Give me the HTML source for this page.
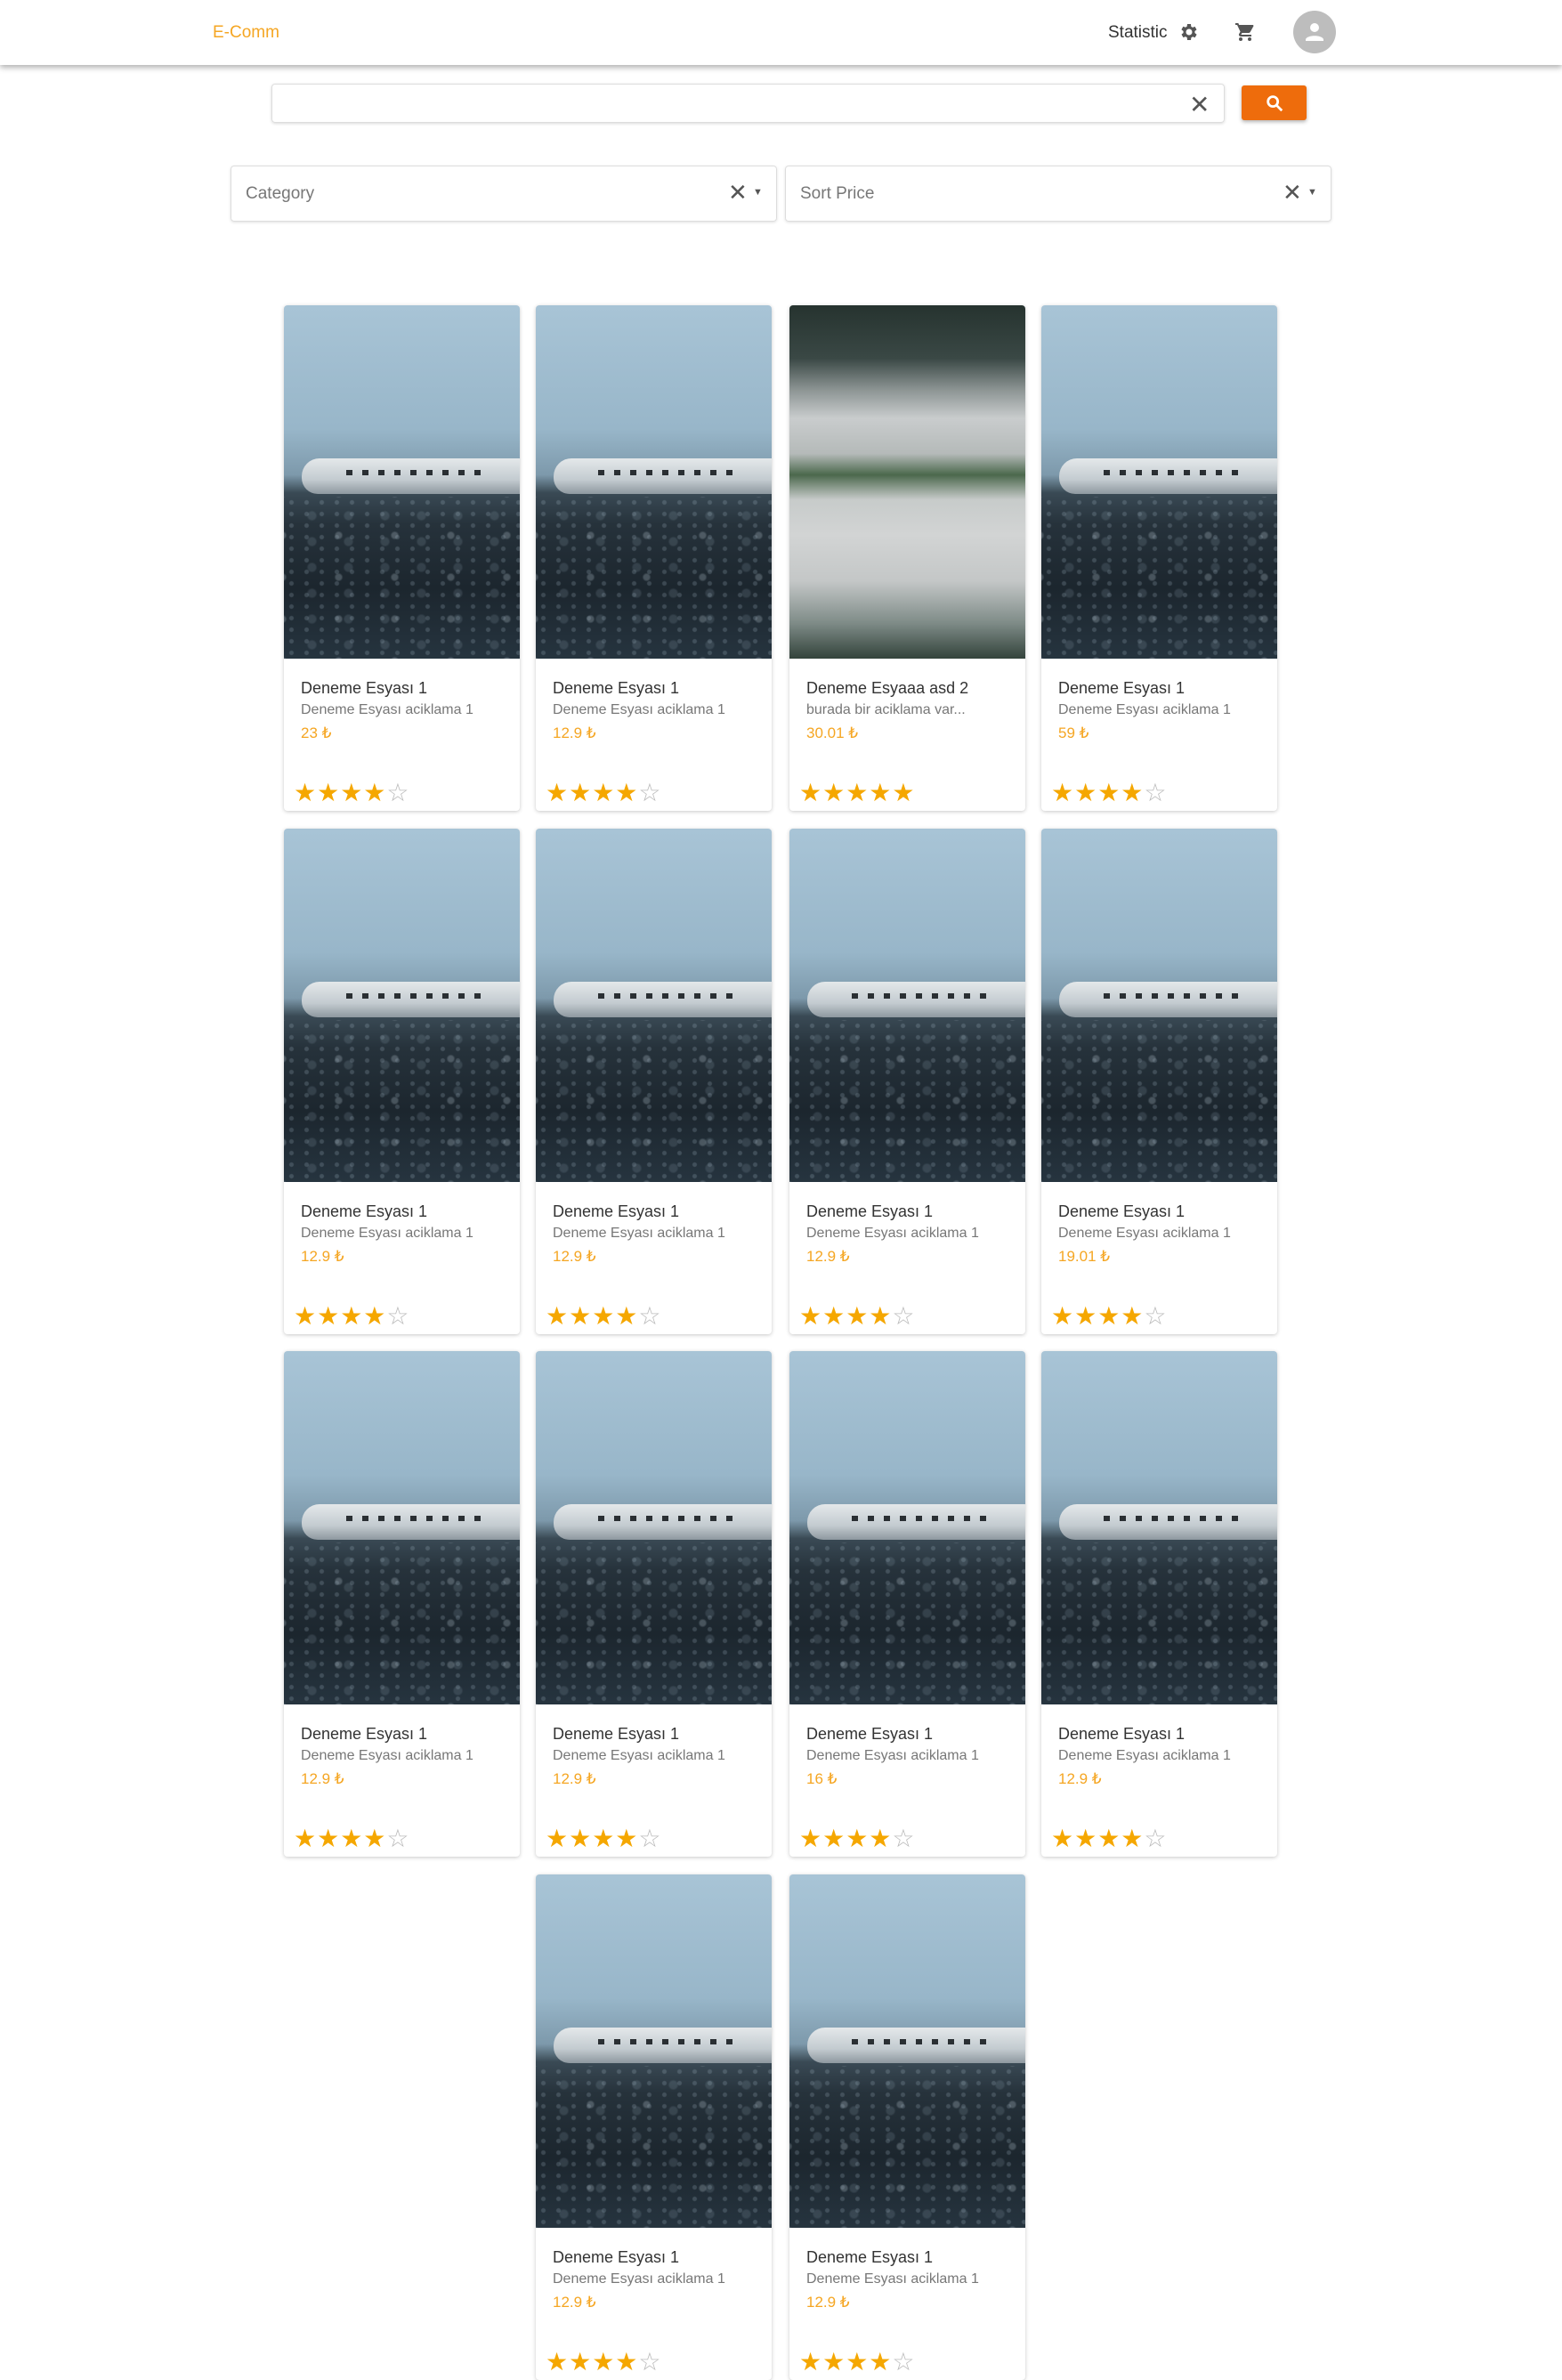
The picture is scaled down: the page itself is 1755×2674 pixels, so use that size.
<!DOCTYPE html>
<html><head><meta charset="utf-8">
<style>
*{box-sizing:border-box;margin:0;padding:0}
body{width:1755px;height:2673px;background:#fff;font-family:"Liberation Sans",sans-serif;position:relative;overflow:hidden}
.hdr{position:absolute;left:0;top:0;width:1755px;height:73px;background:#fff;box-shadow:0 3px 6px rgba(0,0,0,.3)}
.logo{position:absolute;left:239px;top:26px;font-size:19px;color:#f5a623}
.stat{position:absolute;left:1245px;top:26px;font-size:19px;color:#333}
.abs{position:absolute}
.search{position:absolute;left:305px;top:94px;width:1071px;height:44px;border:1px solid #ddd;border-radius:4px;box-shadow:0 1px 3px rgba(0,0,0,.15)}
.sbtn{position:absolute;left:1395px;top:96px;width:73px;height:39px;background:#ee6c0c;border-radius:3px;box-shadow:0 2px 4px rgba(0,0,0,.3)}
.sel{position:absolute;top:186px;width:614px;height:63px;border:1px solid #ddd;border-radius:4px;box-shadow:0 1px 3px rgba(0,0,0,.12)}
.sel span{position:absolute;left:16px;top:20px;font-size:19px;color:#777}
.card{position:absolute;width:265px;height:568px;background:#fff;border-radius:4px;box-shadow:0 1px 4px rgba(0,0,0,.22);overflow:hidden}
.img{position:absolute;left:0;top:0;width:265px;height:397px;overflow:hidden}
.plane .img{background:linear-gradient(180deg,#a8c4d6 0%,#98b6c9 35%,#7d99ab 48%,#3a4a55 53%,#26323b 62%,#1c262e 80%,#26343f 100%)}
.speck{position:absolute;left:0;top:215px;width:265px;height:182px;background-image:radial-gradient(circle,rgba(170,190,205,.22) 0 2px,transparent 3px),radial-gradient(circle,rgba(150,170,185,.18) 0 4px,transparent 6px),radial-gradient(circle,rgba(200,215,225,.25) 0 3px,transparent 5px);background-size:17px 13px,41px 29px,63px 47px;background-position:0 0,11px 7px,30px 20px}
.fog .img{background:linear-gradient(180deg,#26332f 0%,#3a4845 15%,#8d9594 24%,#c9cccd 32%,#b5bab9 42%,#4b684c 48%,#c7cbca 55%,#d2d4d4 65%,#c4c7c7 78%,#7e8b87 90%,#33433b 100%)}
.t{position:absolute;left:19px;top:420px;font-size:18px;color:#333}
.d{position:absolute;left:19px;top:446px;font-size:16px;color:#777}
.p{position:absolute;left:19px;top:471px;font-size:17px;color:#f5a623}
.stars{position:absolute;left:11px;top:531px;font-size:28px;letter-spacing:1px;color:#f5a700}
.stars .e{color:#bbb}
</style></head><body>
<div class="hdr">
<div class="logo">E-Comm</div>
<div class="stat">Statistic</div>
<svg class="abs" style="left:1323px;top:24px" width="24" height="24" viewBox="0 0 24 24"><path fill="#555" d="M19.4 13a7.5 7.5 0 000-2l2.1-1.6-2-3.5-2.5 1a7 7 0 00-1.7-1L15 3h-4l-.4 2.7a7 7 0 00-1.7 1l-2.5-1-2 3.5L6.6 11a7.5 7.5 0 000 2l-2.1 1.6 2 3.5 2.5-1a7 7 0 001.7 1L11 21h4l.4-2.7a7 7 0 001.7-1l2.5 1 2-3.5zM13 15.5a3.5 3.5 0 110-7 3.5 3.5 0 010 7z"/></svg>
<svg class="abs" style="left:1387px;top:24px" width="24" height="24" viewBox="0 0 24 24"><path fill="#555" d="M7 18a2 2 0 100 4 2 2 0 000-4zM1 2v2h2l3.6 7.6L5.2 14A2 2 0 007 17h12v-2H7.4l1.1-2h7.5a2 2 0 001.7-1l3.6-6.5A1 1 0 0020.4 4H5.2l-.9-2zm16 16a2 2 0 100 4 2 2 0 000-4z"/></svg>
<svg class="abs" style="left:1453px;top:12px" width="48" height="48" viewBox="0 0 48 48"><circle cx="24" cy="24" r="24" fill="#bdbdbd"/><circle cx="24" cy="19" r="5" fill="#fff"/><path d="M14 32c2-5 18-5 20 0v2H14z" fill="#fff"/></svg>
</div>
<div class="search">
<span class="abs" style="left:1030px;top:6px;font-size:28px;color:#555">✕</span></div>
<div class="sbtn">
<svg class="abs" style="left:26px;top:9px" width="22" height="22" viewBox="0 0 24 24"><circle cx="10" cy="10" r="6" stroke="#fff" stroke-width="3" fill="none"/><path d="M14.5 14.5L21 21" stroke="#fff" stroke-width="3"/></svg></div>
<div class="sel" style="left:259px"><span>Category</span><span style="left:558px;top:14px;font-size:26px;color:#555">✕</span><span style="left:586px;top:23px;font-size:11px;color:#555">▼</span></div>
<div class="sel" style="left:882px"><span>Sort Price</span><span style="left:558px;top:14px;font-size:26px;color:#555">✕</span><span style="left:586px;top:23px;font-size:11px;color:#555">▼</span></div>
<div id="grid"></div>
<script>
const titles=["Deneme Esyası 1","Deneme Esyası 1","Deneme Esyaaa asd 2","Deneme Esyası 1","Deneme Esyası 1","Deneme Esyası 1","Deneme Esyası 1","Deneme Esyası 1","Deneme Esyası 1","Deneme Esyası 1","Deneme Esyası 1","Deneme Esyası 1","Deneme Esyası 1","Deneme Esyası 1"];
const descs=["Deneme Esyası aciklama 1","Deneme Esyası aciklama 1","burada bir aciklama var...","Deneme Esyası aciklama 1","Deneme Esyası aciklama 1","Deneme Esyası aciklama 1","Deneme Esyası aciklama 1","Deneme Esyası aciklama 1","Deneme Esyası aciklama 1","Deneme Esyası aciklama 1","Deneme Esyası aciklama 1","Deneme Esyası aciklama 1","Deneme Esyası aciklama 1","Deneme Esyası aciklama 1"];
const prices=["23","12.9","30.01","59","12.9","12.9","12.9","19.01","12.9","12.9","16","12.9","12.9","12.9"];
const ratings=[4,4,5,4,4,4,4,4,4,4,4,4,4,4];
const images=["plane","plane","fog","plane","plane","plane","plane","plane","plane","plane","plane","plane","plane","plane"];
const colX=[319,602,887,1170], rowY=[343,931,1518,2106];
const grid=document.getElementById('grid');
titles.forEach((t,i)=>{
  let r=Math.floor(i/4), c=i%4;
  if(r===3) c+=1;
  const card=document.createElement('div');
  card.className='card '+images[i];
  card.style.left=colX[c]+'px'; card.style.top=rowY[r]+'px';
  
  
  let plane=images[i]==='plane'?'<div class="speck"></div><div style="position:absolute;left:20px;top:172px;width:250px;height:40px;background:linear-gradient(180deg,#e4e8ea,#c3cbd0 60%,#8e989f);border-radius:20px 6px 4px 18px"></div><div style="position:absolute;left:70px;top:185px;width:160px;height:6px;background:repeating-linear-gradient(90deg,#2a2f33 0 7px,transparent 7px 18px)"></div>':'';
  let st='';for(let k=0;k<5;k++)st+=k<ratings[i]?'★':'<span class="e">☆</span>';
  card.innerHTML='<div class="img">'+plane+'</div><div class="t">'+t+'</div><div class="d">'+descs[i]+'</div><div class="p">'+prices[i]+' ₺</div><div class="stars">'+st+'</div>';
  grid.appendChild(card);
  const im=card.querySelector('.img');
  
  
  const ti=card.querySelector('.t');
  
  
  const de=card.querySelector('.d');
  
  
  const pr=card.querySelector('.p');
  
  
  const sr=card.querySelector('.stars');
  
  
});
</script>
</body></html>
